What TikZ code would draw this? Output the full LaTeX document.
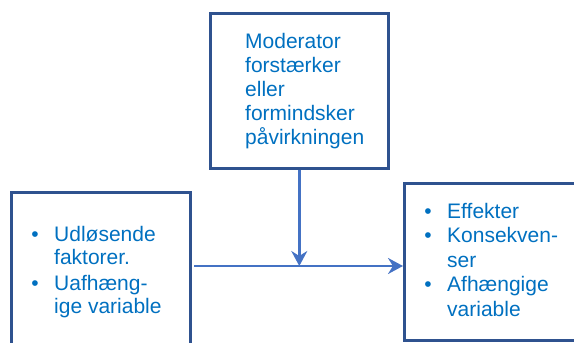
\documentclass[tikz,border=0pt]{standalone}
\usepackage{fontspec}
\setmainfont{Liberation Sans}
\usetikzlibrary{arrows.meta}
\definecolor{boxblue}{HTML}{2F528F}
\definecolor{arrblue}{HTML}{4472C4}
\definecolor{txtblue}{HTML}{0070C0}
\newcommand{\bul}{\llap{\textbullet\hspace{15.5pt}}}
\begin{document}
\begin{tikzpicture}[x=1pt,y=-1pt,
  boxnode/.style={draw=boxblue, line width=2.6pt, fill=none, rectangle, anchor=north west, inner sep=0pt},
  txt/.style={text=txtblue, anchor=base west, inner sep=0pt, font=\fontsize{21}{24}\selectfont},
  arr/.style={draw=arrblue, line width=2.8pt, -{Stealth[length=15pt,width=16pt,inset=5pt]}}]
\useasboundingbox (0,0) rectangle (574,343);
\clip (0,0) rectangle (574,343);
\node[boxnode, minimum width=179pt, minimum height=175pt] (lbox) at (10,191) {};
\node[boxnode, minimum width=178pt, minimum height=155pt] (tbox) at (209,12) {};
\node[boxnode, minimum width=185pt, minimum height=157pt] (rbox) at (403,182) {};
\node[txt] (ttext) at (245,48) {\begin{tabular}[t]{@{}l@{}}Moderator\\forstærker\\eller\\formindsker\\påvirkningen\end{tabular}};
\node[txt, font=\fontsize{21}{23}\selectfont] (ltext) at (54,241) {\begin{tabular}[t]{@{}l@{}}\bul Udløsende\\faktorer.\\[3pt]\bul Uafhæng-\\ige variable\end{tabular}};
\node[txt, font=\fontsize{21}{24.5}\selectfont] (rtext) at (447,218) {\begin{tabular}[t]{@{}l@{}}\bul Effekter\\\bul Konsekven-\\ser\\\bul Afhængige\\variable\end{tabular}};
\coordinate (hstart) at (194,266);
\draw[arr] (hstart) -- (hstart -| rbox.west);
\draw[arr] (tbox.south) -- (tbox.south |- hstart);
\end{tikzpicture}
\end{document}
